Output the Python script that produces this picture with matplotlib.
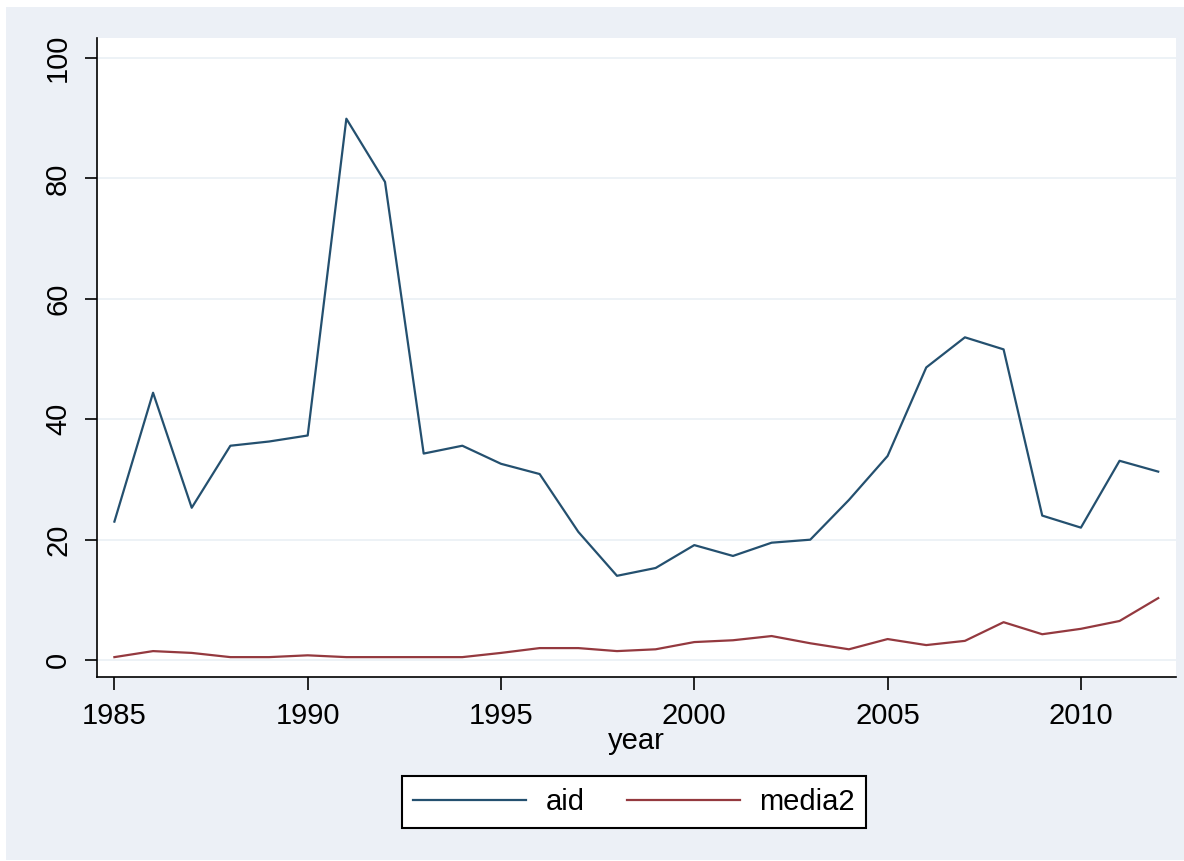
import matplotlib.pyplot as plt
from matplotlib.patches import Rectangle

years = list(range(1985, 2013))
aid = [23.0, 44.4, 25.3, 35.6, 36.3, 37.3, 89.9, 79.4, 34.3, 35.6,
       32.6, 30.9, 21.3, 14.0, 15.3, 19.1, 17.3, 19.5, 20.0, 26.6,
       33.9, 48.6, 53.6, 51.6, 24.0, 22.0, 33.1, 31.3]
media2 = [0.5, 1.5, 1.2, 0.5, 0.5, 0.8, 0.5, 0.5, 0.5, 0.5,
          1.2, 2.0, 2.0, 1.5, 1.8, 3.0, 3.3, 4.0, 2.8, 1.8,
          3.5, 2.5, 3.2, 6.3, 4.3, 5.2, 6.5, 10.3]
yticks = [0, 20, 40, 60, 80, 100]
xticks = [1985, 1990, 1995, 2000, 2005, 2010]

plt.rcParams['font.family'] = ['Liberation Sans', 'DejaVu Sans']

W, H = 1184, 861
fig = plt.figure(figsize=(W / 100, H / 100), dpi=100, facecolor='white')
bg = '#ECF0F6'
fig.patches.append(Rectangle((6 / W, 1 / H), 1 - 6 / W, 1 - 8 / H,
                             transform=fig.transFigure, facecolor=bg,
                             edgecolor='none', zorder=-10))

ax = fig.add_axes([97 / W, 1 - 677 / H, (1176 - 97) / W, (677 - 38) / H])
ax.set_facecolor('white')

ax.plot(years, aid, color='#24506F', lw=1.6, label='aid')
ax.plot(years, media2, color='#94393F', lw=1.6, label='media2')

ax.set_xlim(1984.55, 2012.46)
ax.set_ylim(-2.8, 103.3)
ax.set_yticks(yticks)
ax.set_xticks(xticks)
ax.grid(axis='y', color='#EAF0F5', lw=1.2)
ax.set_axisbelow(True)

for s in ['top', 'right']:
    ax.spines[s].set_visible(False)
for s in ['left', 'bottom']:
    ax.spines[s].set_linewidth(1.2)
    ax.spines[s].set_color('black')

ax.tick_params(axis='both', length=9, width=1.2, pad=9, labelsize=21)
for lbl in ax.get_yticklabels():
    lbl.set_rotation(90)
    lbl.set_va('center')

ax.set_xlabel('year', fontsize=21, labelpad=-2)

leg = fig.legend(loc='center', bbox_to_anchor=(634 / W, 1 - 802 / H),
                 ncol=2, fontsize=21, frameon=True, fancybox=False,
                 handlelength=3.87, handletextpad=0.65, columnspacing=1.47,
                 borderpad=0.4, borderaxespad=0, framealpha=1)
leg.get_frame().set_edgecolor('black')
leg.get_frame().set_linewidth(1.5)

fig.savefig('out.png', dpi=100, facecolor=fig.get_facecolor())
